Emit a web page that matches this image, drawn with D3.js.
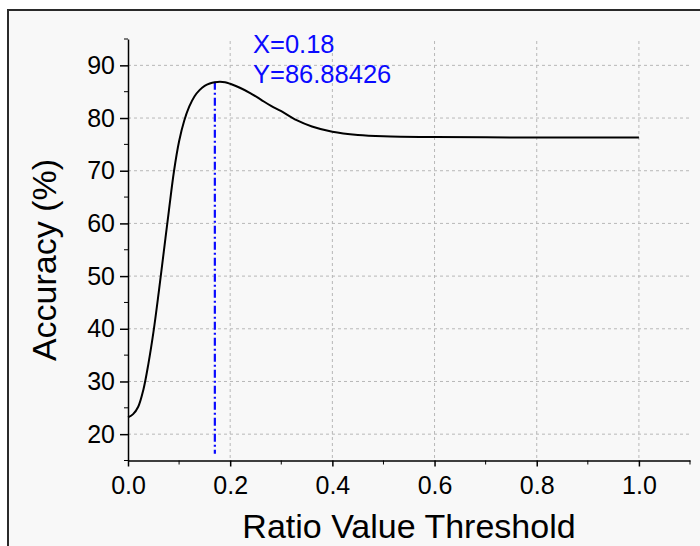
<!DOCTYPE html>
<html>
<head>
  <meta charset="UTF-8" />
  <title>Accuracy vs Ratio Value Threshold</title>
  <style>
    body {
      margin: 0;
      padding: 0;
      background-color: white;
      font-family: 'Liberation Sans', Arial, sans-serif;
    }
    #chart svg {
      display: block;
    }
  </style>
  <script src="https://cdn.jsdelivr.net/npm/d3@7"></script>
</head>
<body>
  <div id="chart"></div>

<script>
  // Data
  const thresholds = [
    0, 0.01, 0.02, 0.03, 0.04, 0.05, 0.06, 0.07, 0.08, 0.09, 0.1, 0.11,
    0.12, 0.13, 0.14, 0.15, 0.16, 0.17, 0.18, 0.19, 0.2, 0.22, 0.24, 0.26,
    0.28, 0.3, 0.33, 0.36, 0.4, 0.45, 0.5, 0.6, 0.7, 0.8, 0.9, 1.0,
  ]
  const accuracy = [
    23.2, 23.8, 25.2, 28.4, 33.4, 39.5, 46.8, 54.6, 62.4, 69.9, 75.6, 79.5,
    82.2, 84.1, 85.3, 86.1, 86.55, 86.8, 86.88, 86.8, 86.5, 85.7, 84.7, 83.5,
    82.3, 81.3, 79.6, 78.4, 77.4, 76.8, 76.55, 76.4, 76.35, 76.3, 76.3, 76.3,
  ]

  // Marker for the best threshold
  const markerX = 0.17
  const markerY = 86.88426
  const markerLabels = ['X=0.18', 'Y=86.88426']

  const xTicks = [0, 0.2, 0.4, 0.6, 0.8, 1.0]
  const xMinorTicks = [0.1, 0.3, 0.5, 0.7, 0.9, 1.1]
  const yTicks = [20, 30, 40, 50, 60, 70, 80, 90]
  const yMinorTicks = [15, 25, 35, 45, 55, 65, 75, 85, 95]

  const width = 700
  const height = 546

  const svg = d3
    .select('#chart')
    .append('svg')
    .attr('width', width)
    .attr('height', height)

  // Frame around the whole figure (runs off the right and bottom)
  svg
    .append('rect')
    .attr('x', 8)
    .attr('y', 10)
    .attr('width', 720)
    .attr('height', 560)
    .attr('fill', '#f8f8f8')
    .attr('stroke', '#2a2a2a')
    .attr('stroke-width', 2)

  const x = d3.scaleLinear().domain([0, 1.1]).range([128, 690])
  const y = d3.scaleLinear().domain([15, 95]).range([460.5, 39])

  // Grid lines
  const grid = svg
    .append('g')
    .attr('stroke', '#b8b8b8')
    .attr('stroke-width', 1)
    .attr('stroke-dasharray', '3,3')
  grid
    .selectAll('.vgrid')
    .data(xTicks.slice(1))
    .enter()
    .append('line')
    .attr('x1', (d) => x(d))
    .attr('x2', (d) => x(d))
    .attr('y1', y(95) + 2)
    .attr('y2', y(15))
  grid
    .selectAll('.hgrid')
    .data(yTicks)
    .enter()
    .append('line')
    .attr('x1', x(0))
    .attr('x2', x(1.1))
    .attr('y1', (d) => y(d))
    .attr('y2', (d) => y(d))

  // Axes
  const fontSize = '25px'
  const xAxis = svg
    .append('g')
    .attr('transform', `translate(0,${y(15)})`)
    .call(d3.axisBottom(x).tickValues(xTicks).tickFormat(d3.format('.1f')).tickSize(6).tickSizeOuter(0))
  xAxis
    .selectAll('text')
    .attr('font-size', fontSize)
    .attr('font-family', 'Liberation Sans')
    .attr('fill', '#000')
    .attr('y', 33.5)
    .attr('dy', 0)
  xAxis
    .append('g')
    .selectAll('line')
    .data(xMinorTicks)
    .enter()
    .append('line')
    .attr('x1', (d) => x(d))
    .attr('x2', (d) => x(d))
    .attr('y2', 4)
    .attr('stroke', '#000')

  const yAxis = svg
    .append('g')
    .attr('transform', `translate(${x(0)},0)`)
    .call(d3.axisLeft(y).tickValues(yTicks).tickSize(8).tickSizeOuter(0))
  yAxis
    .selectAll('text')
    .attr('font-size', fontSize)
    .attr('font-family', 'Liberation Sans')
    .attr('fill', '#000')
    .attr('x', -13)
  yAxis
    .append('g')
    .selectAll('line')
    .data(yMinorTicks)
    .enter()
    .append('line')
    .attr('y1', (d) => y(d))
    .attr('y2', (d) => y(d))
    .attr('x2', -4)
    .attr('stroke', '#000')

  svg.selectAll('.domain').attr('stroke', '#000').attr('stroke-width', 1.5)
  svg.selectAll('.tick line').attr('stroke', '#000').attr('stroke-width', 1.5)

  // Axis titles
  svg
    .append('text')
    .attr('x', (x(0) + x(1.1)) / 2)
    .attr('y', 538)
    .attr('text-anchor', 'middle')
    .attr('font-size', '34px')
    .text('Ratio Value Threshold')
  svg
    .append('text')
    .attr('transform', 'translate(56,260) rotate(-90)')
    .attr('text-anchor', 'middle')
    .attr('font-size', '34px')
    .text('Accuracy (%)')

  // Marker line at the best threshold
  svg
    .append('line')
    .attr('x1', x(markerX))
    .attr('x2', x(markerX))
    .attr('y1', y(markerY))
    .attr('y2', y(16.3))
    .attr('stroke', '#0a0aff')
    .attr('stroke-width', 2.2)
    .attr('stroke-dasharray', '8,3,2,3')

  svg
    .append('g')
    .selectAll('text')
    .data(markerLabels)
    .enter()
    .append('text')
    .attr('x', 253)
    .attr('y', (d, i) => 53 + i * 30)
    .attr('font-size', '25.5px')
    .attr('fill', '#0a0aff')
    .text((d) => d)

  // The accuracy curve
  const line = d3
    .line()
    .x((d, i) => x(thresholds[i]))
    .y((d) => y(d))
    .curve(d3.curveCatmullRom)

  svg
    .append('path')
    .datum(accuracy)
    .attr('d', line)
    .attr('fill', 'none')
    .attr('stroke', '#000')
    .attr('stroke-width', 2)
</script>
</body>
</html>
